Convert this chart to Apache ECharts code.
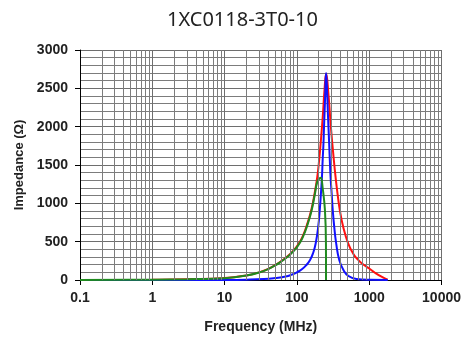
<!DOCTYPE html>
<html lang="en">
<head>
    <meta charset="UTF-8">
    <title>1XC0118-3T0-10</title>
    <script src="https://cdn.jsdelivr.net/npm/echarts@6/dist/echarts.min.js"></script>
    <style>
        body { margin: 0; background: #fff; }
    </style>
</head>
<body>
    <div id="main" style="width: 464px;height:341px;"></div>
    <script type="text/javascript">
        // impedance |Z| (red)
        const zFreq = [0.1, 1, 3, 10, 20, 30, 40, 50, 60, 70, 80, 90, 100, 111, 122, 135, 158, 176, 191, 203, 213, 222, 231, 239, 254, 272, 295, 324, 342, 364, 392, 436, 511, 604, 700, 820, 1000, 1200, 1500, 1800];
        const zVals = [0.4, 4, 10, 25, 60, 100, 145, 195, 243, 290, 337, 387, 440, 505, 585, 695, 913, 1135, 1343, 1565, 1787, 1996, 2217, 2439, 2690, 2439, 1996, 1565, 1347, 1131, 913, 695, 479, 340, 265, 205, 150, 95, 40, 5];

        // resistance R (blue)
        const rFreq = [0.1, 1, 10, 20, 35, 50, 70, 85, 100, 117, 135, 152, 168, 182, 197, 207, 215, 222, 227, 233, 237, 242, 246.6, 253, 262, 267, 273, 279, 285, 292, 302, 313, 328, 349, 385, 440, 516, 663, 1000, 1800];
        const rVals = [0, 0, 1, 4, 12, 25, 45, 70, 100, 140, 195, 261, 355, 479, 695, 913, 1135, 1343, 1565, 1787, 1996, 2217, 2439, 2700, 2439, 2217, 1996, 1787, 1565, 1343, 1135, 913, 695, 479, 261, 130, 52, 13, 2, 0];

        // reactance X (green)
        const xFreq = [0.1, 1, 3, 10, 20, 30, 40, 50, 60, 70, 80, 90, 100, 111, 122, 135, 158, 176, 191, 205, 215, 227, 244, 252, 252.5];
        const xVals = [0.4, 4, 10, 24, 58, 98, 142, 190, 238, 284, 330, 378, 430, 492, 570, 675, 890, 1105, 1280, 1325, 1335, 1200, 913, 480, 0];

        const xTickLabels = ['0.1', '1', '10', '100', '1000', '10000'];

        // minor log grid lines (2..9 in every decade)
        const minorX = [];
        [0.1, 1, 10, 100, 1000].forEach(d => {
            for (let k = 2; k <= 9; k++) minorX.push(+(d * k).toPrecision(3));
        });

        const pair = (fs, vs) => fs.map((f, i) => [f, vs[i]]);
        const axisFont = { fontFamily: 'Liberation Sans, Arial, sans-serif', fontWeight: 'bold', fontSize: 14, color: '#222' };
        const gridColor = '#6e6e6e';

        let options = {
            animation: false,
            title: {
                text: '1XC0118-3T0-10',
                left: 162,
                top: 5,
                textStyle: { fontFamily: "'Noto Sans', sans-serif", fontWeight: 'normal', fontSize: 20, color: '#222' }
            },
            grid: { left: 80, right: 19, top: 50, bottom: 61 },
            xAxis: {
                type: 'log',
                logBase: 10,
                min: 0.1,
                max: 10000,
                name: 'Frequency (MHz)',
                nameLocation: 'middle',
                nameGap: 40,
                nameTextStyle: axisFont,
                axisLine: { lineStyle: { color: '#000', width: 1 } },
                axisTick: { show: true, length: 5, lineStyle: { color: '#000' } },
                axisLabel: Object.assign({ margin: 11, formatter: v => xTickLabels.find(t => Math.abs(+t - v) < 1e-6 * v) || '' }, axisFont),
                splitLine: { show: true, lineStyle: { color: gridColor, width: 1 } }
            },
            yAxis: {
                type: 'value',
                min: 0,
                max: 3000,
                interval: 500,
                name: 'Impedance (Ω)',
                nameLocation: 'middle',
                nameGap: 53,
                nameTextStyle: Object.assign({}, axisFont, { fontSize: 13 }),
                axisLine: { show: true, lineStyle: { color: '#000', width: 1 } },
                axisTick: { show: true, length: 5, lineStyle: { color: '#000' } },
                axisLabel: Object.assign({ margin: 12, formatter: v => String(v) }, axisFont),
                splitLine: { show: true, lineStyle: { color: gridColor, width: 1 } },
                minorTick: { show: false, splitNumber: 5 },
                minorSplitLine: { show: true, lineStyle: { color: '#7c7c7c', width: 1 } }
            },
            series: [
                {
                    type: 'line',
                    z: 1,
                    silent: true,
                    symbol: 'none',
                    data: [[1, 0]],
                    lineStyle: { opacity: 0 },
                    markLine: {
                        silent: true,
                        symbol: ['none', 'none'],
                        label: { show: false },
                        lineStyle: { color: '#7c7c7c', type: 'solid', width: 1 },
                        data: minorX.map(v => ({ xAxis: v }))
                    }
                },
                {
                    name: 'Z',
                    type: 'line',
                    data: pair(zFreq, zVals),
                    symbol: 'none',
                    smooth: 0.5,
                    lineStyle: { color: '#ff1010', width: 2 },
                    itemStyle: { color: '#ff1010' }
                },
                {
                    name: 'R',
                    type: 'line',
                    data: pair(rFreq, rVals),
                    symbol: 'none',
                    smooth: 0.5,
                    lineStyle: { color: '#1010ff', width: 2 },
                    itemStyle: { color: '#1010ff' }
                },
                {
                    name: 'X',
                    type: 'line',
                    data: pair(xFreq, xVals),
                    symbol: 'none',
                    smooth: 0.4,
                    lineStyle: { color: '#1f8a1f', width: 2 },
                    itemStyle: { color: '#1f8a1f' }
                }
            ]
        };
        let myChart = echarts.init(document.getElementById('main'));
        myChart.setOption(options);
    </script>
</body>
</html>
